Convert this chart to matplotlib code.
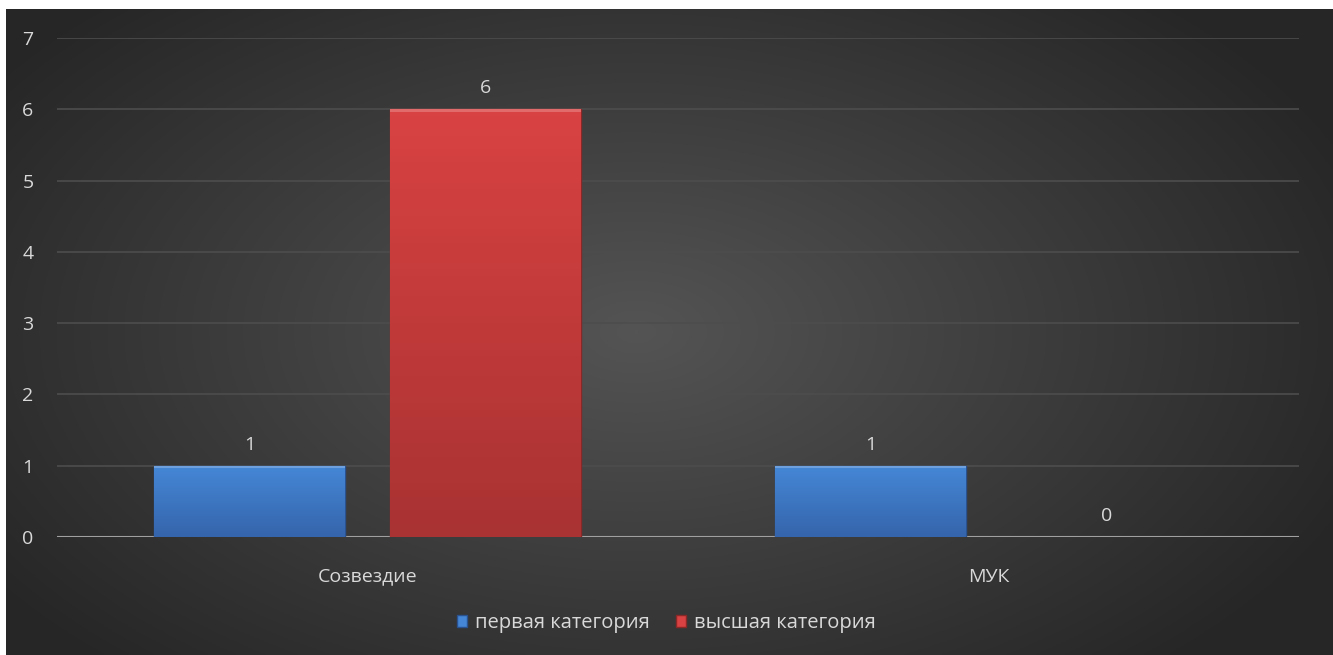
import numpy as np
import matplotlib.pyplot as plt
from matplotlib.patches import Rectangle

categories = ['Созвездие', 'МУК']
series_names = ['первая категория', 'высшая категория']
first_cat = [1, 1]
top_cat = [6, 0]
yticks = [0, 1, 2, 3, 4, 5, 6, 7]

plt.rcParams['font.family'] = ['Open Sans', 'DejaVu Sans']
txt = '#d9d9d9'

fig = plt.figure(figsize=(13.33, 6.55), dpi=100)
fig.patch.set_facecolor('white')

# background with soft radial gradient
bg = fig.add_axes([6 / 1333, 0, 1 - 6 / 1333, 1 - 9 / 655])
bg.set_axis_off()
yy, xx = np.mgrid[-1:1:300j, -1:1:600j]
r = np.sqrt(((xx + 0.05) * 0.9) ** 2 + (yy * 0.75) ** 2)
shade = np.clip(0.33 - 0.17 * r, 0.15, 0.33)
bg.imshow(np.dstack([shade, shade, shade]), aspect='auto', extent=[0, 1, 0, 1])

ax = fig.add_axes([57 / 1333, 1 - 537 / 655, (1299 - 57) / 1333, (537 - 38) / 655])
ax.patch.set_alpha(0)
ax.set_xlim(-0.5, len(categories) - 0.5)
ax.set_ylim(0, 7)

for s in ax.spines.values():
    s.set_visible(False)
ax.set_yticks(yticks)
ax.yaxis.grid(True, color='#4d4d4d', linewidth=1.2)
ax.set_axisbelow(True)
ax.axhline(0, color='#a0a0a0', linewidth=1.5, zorder=1)
ax.tick_params(axis='both', length=0, colors=txt, labelsize=14)
ax.tick_params(axis='y', pad=17)
ax.tick_params(axis='x', pad=22)
ax.set_xticks(range(len(categories)))
ax.set_xticklabels(categories)

x = np.arange(len(categories))
width = 0.306
offset = 0.19


def grad_bars(xs, vals, top_col, bot_col, edge_col):
    bars = ax.bar(xs, vals, width, color=top_col, edgecolor=edge_col, linewidth=1.0, zorder=2)
    t = np.array(plt.matplotlib.colors.to_rgb(top_col))
    b = np.array(plt.matplotlib.colors.to_rgb(bot_col))
    g = np.linspace(0, 1, 64)[:, None]
    img = (t * (1 - g) + b * g)[:, None, :]
    for bar in bars:
        h = bar.get_height()
        if h <= 0:
            bar.set_linewidth(0)
            continue
        x0 = bar.get_x()
        im = ax.imshow(img, aspect='auto', extent=[x0, x0 + width, 0, h], zorder=2.5)
        im.set_clip_path(bar)
        # bevel highlight on top
        ax.add_patch(Rectangle((x0, h - 0.035), width, 0.035, color='white', alpha=0.22,
                               linewidth=0, zorder=3))
    return bars


b1 = grad_bars(x - offset, first_cat, '#4587d6', '#3565ac', '#2a5290')
b2 = grad_bars(x + offset, top_cat, '#d94242', '#a93232', '#8a2727')
ax.set_xlim(-0.5, len(categories) - 0.5)
ax.set_ylim(0, 7)

for xs, vals in [(x - offset, first_cat), (x + offset, top_cat)]:
    for xi, v in zip(xs, vals):
        ax.text(xi, v + 0.17, str(v), ha='center', va='bottom', color=txt, fontsize=14)

leg = fig.legend([b1, b2], series_names, loc='center', bbox_to_anchor=(0.5, 1 - 623 / 655),
                 ncol=2, frameon=False, fontsize=14.5, handlelength=0.5, handleheight=0.5,
                 columnspacing=1.3, handletextpad=0.4)
for t in leg.get_texts():
    t.set_color(txt)

fig.savefig('out.png', dpi=100)
